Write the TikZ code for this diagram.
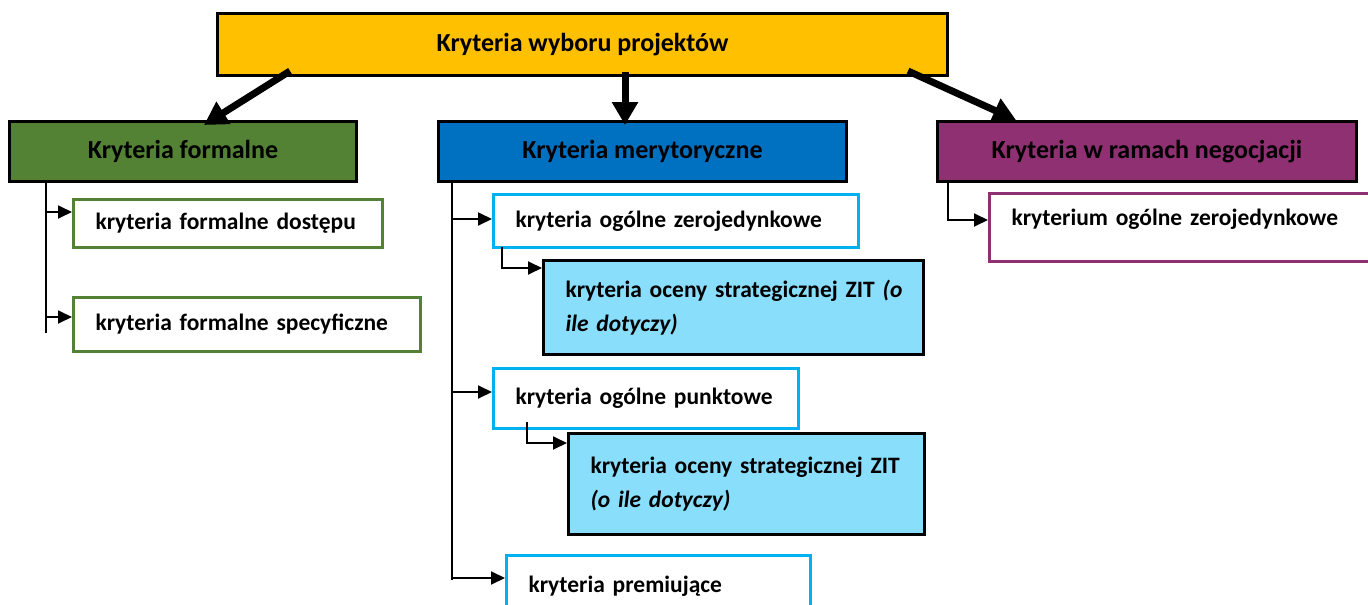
\documentclass[tikz,border=0pt]{standalone}
\usepackage{fontspec}
\setmainfont{Carlito}
\usetikzlibrary{arrows.meta,calc}
\definecolor{cTop}{RGB}{255,192,0}
\definecolor{cGreen}{RGB}{84,130,53}
\definecolor{cBlue}{RGB}{0,112,192}
\definecolor{cPurple}{RGB}{143,48,114}
\definecolor{cCyan}{RGB}{0,176,240}
\definecolor{cLight}{RGB}{137,222,252}
\tikzset{
  every node/.style={font=\fontsize{23.5}{34}\selectfont\bfseries, text=black},
  mainbox/.style={draw=black, line width=3pt, anchor=north west, inner sep=0pt, font=\fontsize{26}{32}\selectfont\bfseries},
  subbox/.style={line width=3pt, anchor=north west, fill=white, inner xsep=22pt, inner ysep=0pt, align=left},
  bigarrow/.style={line width=7pt, -{Triangle[length=23pt,width=25pt]}},
  conn/.style={line width=1.8pt, -{Triangle[length=14pt,width=13pt]}},
  trunk/.style={line width=1.8pt}
}
\begin{document}
\begin{tikzpicture}[x=1pt,y=-1pt]
\useasboundingbox (0,0) rectangle (1368,605);
% main boxes
\node[mainbox, fill=cTop, minimum width=730pt, minimum height=62pt] (top) at (216,12) {Kryteria wyboru projektów};
\node[mainbox, fill=cGreen, minimum width=347pt, minimum height=60pt] (gf) at (8,120) {Kryteria formalne};
\node[mainbox, fill=cBlue, minimum width=408pt, minimum height=60pt] (bm) at (437,120) {Kryteria merytoryczne};
\node[mainbox, fill=cPurple, minimum width=419pt, minimum height=60pt] (pn) at (936,120) {Kryteria w ramach negocjacji};
% sub boxes
\node[subbox, draw=cGreen, text width=265pt, minimum height=48pt] (fd) at (72,198) {kryteria formalne dostępu};
\node[subbox, draw=cGreen, text width=303pt, minimum height=54pt] (fs) at (72,296) {kryteria formalne specyficzne};
\node[subbox, draw=cCyan, text width=321pt, minimum height=53pt] (oz) at (492,193) {kryteria ogólne zerojedynkowe};
\node[subbox, draw=black, fill=cLight, text width=336pt, minimum height=94pt] (z1) at (542,259) {kryteria oceny strategicznej ZIT \rlap{\textit{(o}}\\\textit{ile dotyczy)}};
\node[subbox, draw=cCyan, text width=261pt, minimum height=60pt] (op) at (492,367) {kryteria ogólne punktowe};
\node[subbox, draw=black, fill=cLight, text width=312pt, minimum height=101pt] (z2) at (567,432) {kryteria oceny strategicznej ZIT\\\textit{(o ile dotyczy)}};
\node[subbox, draw=cCyan, text width=260pt, minimum height=62pt] (pr) at (505,554) {kryteria premiujące};
\node[subbox, draw=cPurple, text width=340pt, minimum height=68pt, text depth=20pt] (pk) at (988,192) {kryterium ogólne zerojedynkowe};
% thick arrows
\draw[bigarrow] ($(top.south west)+(74,-6)$) -- ($(gf.north west)+(196,5)$);
\draw[bigarrow] ($(top.south west)+(409,-5)$) -- ($(bm.north west)+(188,5)$);
\draw[bigarrow] ($(top.south west)+(692,-6)$) -- ($(pn.north west)+(80,0)$);
% left trunk
\coordinate (t1) at ($(gf.south west)+(38,150)$);
\draw[trunk] (gf.south west -| t1) -- (t1);
\coordinate (a1) at ($(fd.north west)+(0,14)$);
\coordinate (a2) at ($(fs.north west)+(0,21)$);
\draw[conn] (a1 -| t1) -- (a1);
\draw[conn] (a2 -| t1) -- (a2);
% middle trunk
\coordinate (t2) at ($(bm.south west)+(15,397)$);
\draw[trunk] (bm.south west -| t2) -- (t2);
\coordinate (b1) at ($(oz.north west)+(0,26)$);
\coordinate (b2) at ($(op.north west)+(0,25)$);
\coordinate (b3) at ($(pr.north west)+(0,24)$);
\draw[conn] (b1 -| t2) -- (b1);
\draw[conn] (b2 -| t2) -- (b2);
\draw[conn] (b3 -| t2) -- (b3);
% sub connectors
\draw[conn] ($(oz.south west)+(10,-2)$) |- ($(z1.north west)+(0,9)$);
\draw[conn] ($(op.south west)+(35,-8)$) |- ($(z2.north west)+(0,11)$);
% right
\draw[conn] ($(pn.south west)+(12,0)$) |- ($(pk.north west)+(0,28)$);
\end{tikzpicture}
\end{document}
